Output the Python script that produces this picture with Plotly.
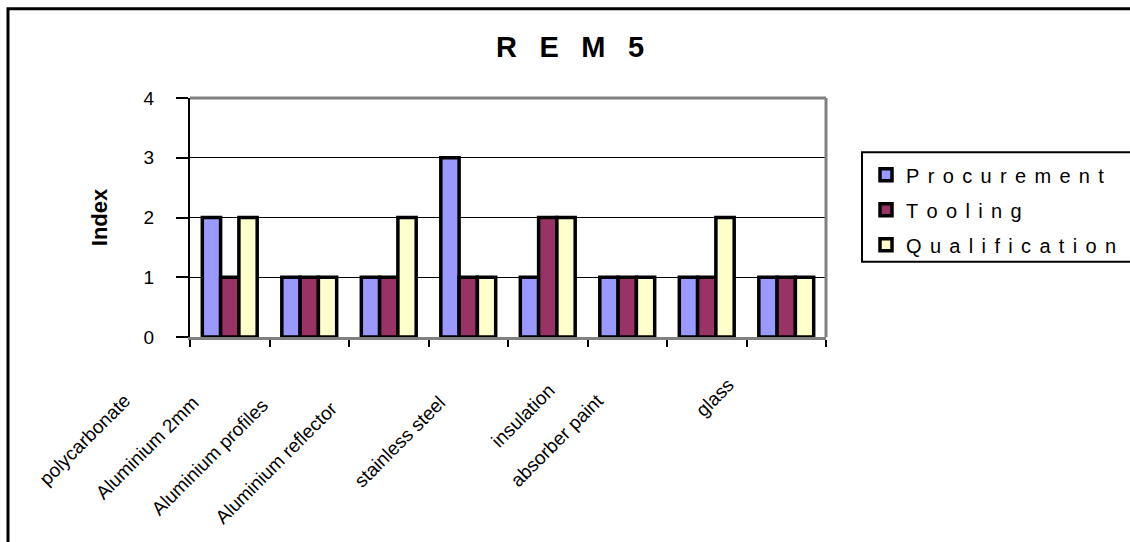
import plotly.graph_objects as go

# Material categories and index values per cost driver
materials = [
    "polycarbonate", "Aluminium 2mm", "Aluminium profiles", "Aluminium reflector",
    "stainless steel", "insulation", "absorber paint", "glass",
]
procurement = [2, 1, 1, 3, 1, 1, 1, 1]
tooling = [1, 1, 1, 1, 2, 1, 1, 1]
qualification = [2, 1, 2, 1, 2, 1, 2, 1]

series_names = ["Procurement", "Tooling", "Qualification"]
series_colors = ["#9999FF", "#993366", "#FFFFCC"]

# Pixel geometry of the plotting area inside the 1130x542 canvas
W, H = 1130, 542
L, R, T, B = 190, 826, 97.5, 337.5


def px_x(x):
    return (x - L) / (R - L)


def px_y(y):
    return (B - y) / (B - T)


# Offsets (px) of the slanted category labels relative to each category centre
label_dx = [-94, -105, -116, -125, -97, -67, -98, -47]
label_dy = [-51.5, -53.5, -56.5, -59.5, -53.5, -41.5, -51.5, -36.5]

SANS = "Liberation Sans, Arial, sans-serif"
NARROW = "Liberation Sans Narrow, Arial Narrow, Liberation Sans, sans-serif"


def spaced(s, sep="\u2004\u200a"):
    return sep.join(s)


fig = go.Figure()
for name, vals, col in zip(series_names, [procurement, tooling, qualification], series_colors):
    fig.add_trace(go.Bar(
        x=materials, y=vals, name=spaced(name), legendgroup=name,
        marker=dict(color=col, line=dict(color="black", width=3.5)),
    ))

annotations = []
for m, dx, dy in zip(materials, label_dx, label_dy):
    annotations.append(dict(
        x=m, xref="x", y=0, yref="paper", xshift=dx, yshift=dy,
        text=m, showarrow=False, textangle=-45, borderpad=0,
        xanchor="right", yanchor="top",
        font=dict(family=SANS, size=19, color="black"),
    ))

shapes = [
    # outer chart frame
    dict(type="rect", xref="paper", yref="paper",
         x0=px_x(8), y0=px_y(8), x1=px_x(1160), y1=px_y(580),
         line=dict(color="black", width=3), fillcolor="rgba(0,0,0,0)", layer="above"),
    # top and right edges of the plot area
    dict(type="line", xref="paper", yref="paper", x0=0, y0=1, x1=1, y1=1,
         line=dict(color="#808080", width=3), layer="above"),
    dict(type="line", xref="paper", yref="paper", x0=1, y0=0, x1=1, y1=1,
         line=dict(color="#808080", width=3), layer="above"),
    # legend frame
    dict(type="rect", xref="paper", yref="paper",
         x0=px_x(862), y0=px_y(152), x1=px_x(1160), y1=px_y(262),
         line=dict(color="black", width=2), fillcolor="rgba(0,0,0,0)", layer="above"),
]

fig.update_layout(
    width=W, height=H,
    margin=dict(l=L, r=W - R, t=T, b=H - B, pad=0, autoexpand=False),
    paper_bgcolor="white", plot_bgcolor="white",
    barmode="group", bargap=0.31, bargroupgap=0,
    title=dict(
        text="<b>" + "\u2002 ".join("REM5") + "</b>",
        x=570 / W, xref="container", xanchor="center",
        y=1 - 46.5 / H, yref="container", yanchor="middle",
        font=dict(family=NARROW, size=29, color="black"),
    ),
    xaxis=dict(
        type="category", range=[-0.5, len(materials) - 0.5], autorange=False,
        tickson="boundaries", ticks="outside", ticklen=7,
        tickwidth=2, tickcolor="black", showticklabels=False,
        showline=True, linecolor="#808080", linewidth=3, showgrid=False,
        layer="below traces",
    ),
    yaxis=dict(
        range=[0, 4], autorange=False, dtick=1, ticks="outside", ticklen=12, tickwidth=2,
        tickcolor="black", showline=True, linecolor="black", linewidth=2,
        showgrid=True, gridcolor="black", gridwidth=1, zeroline=False,
        tickfont=dict(family=SANS, size=19, color="black"),
        ticklabelstandoff=18,
        title=dict(text="<b>Index</b>", standoff=30,
                   font=dict(family=SANS, size=22, color="black")),
    ),
    legend=dict(
        x=px_x(866), y=px_y(155), xanchor="left", yanchor="top",
        bgcolor="rgba(0,0,0,0)", borderwidth=0,
        font=dict(family=SANS, size=20, color="black"),
        tracegroupgap=6,
    ),
    showlegend=True,
    annotations=annotations,
    shapes=shapes,
)

fig.write_html("out.html")
